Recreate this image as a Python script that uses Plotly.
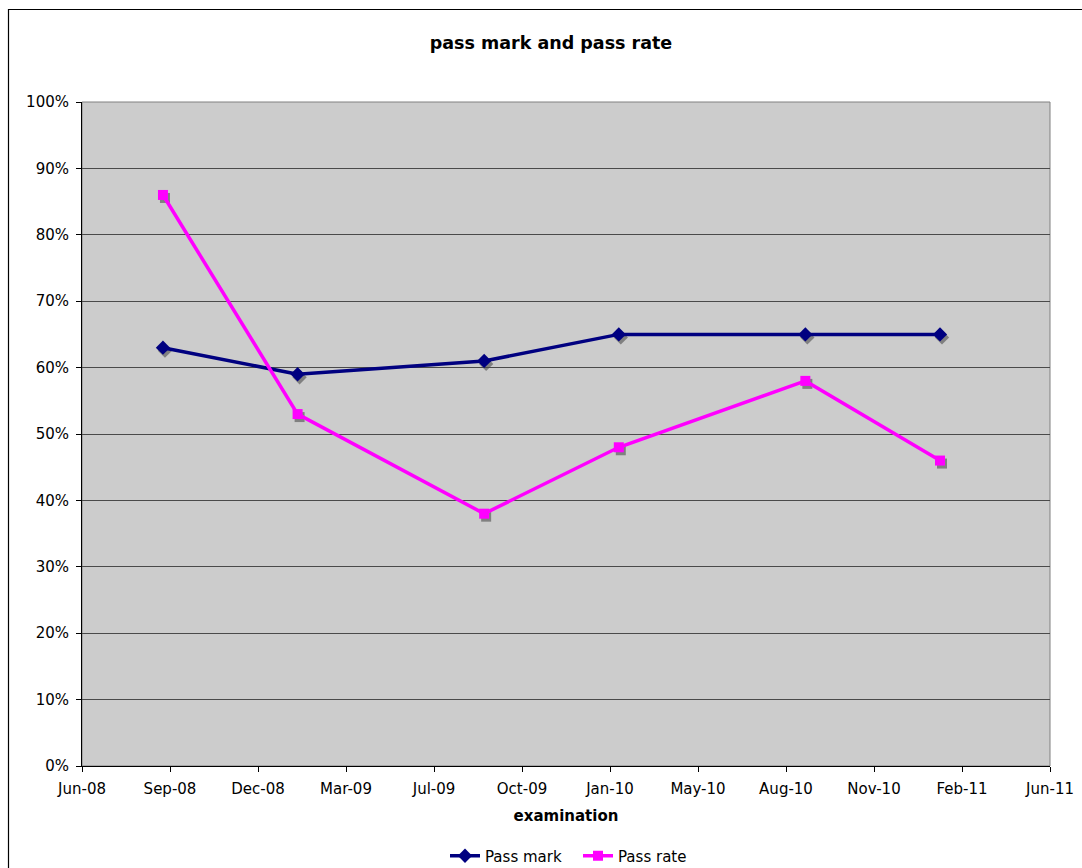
import pandas as pd
import plotly.graph_objects as go

# ---- data ----
exam_dates = ["2008-09-01", "2009-02-01", "2009-09-01", "2010-02-01", "2010-09-01", "2011-02-01"]
pass_mark = [0.63, 0.59, 0.61, 0.65, 0.65, 0.65]
pass_rate = [0.86, 0.53, 0.38, 0.48, 0.58, 0.46]
x_tick_labels = ["Jun-08", "Sep-08", "Dec-08", "Mar-09", "Jul-09", "Oct-09",
                 "Jan-10", "May-10", "Aug-10", "Nov-10", "Feb-11", "Jun-11"]
y_tick_values = [0, 0.1, 0.2, 0.3, 0.4, 0.5, 0.6, 0.7, 0.8, 0.9, 1.0]
x_axis_start = "2008-06-01"
x_tick_step_days = 100

W, H = 1082, 868
L, R, T, B = 82, 1050, 102, 766  # plot area pixel edges
dx, dy = 2, 3                      # marker shadow offset (px)

x_ticks = list(pd.date_range(x_axis_start, periods=len(x_tick_labels), freq=f"{x_tick_step_days}D"))
x_range = [x_ticks[0], x_ticks[-1]]

FONT = "DejaVu Sans"
NAVY = "#000080"
MAGENTA = "#FF00FF"
FS = 15

pw, ph = R + dx - L, B + dy - T


def px_x(p):
    return (p - L) / pw


def px_y(p):
    return (B + dy - p) / ph


fig = go.Figure()

# shadows (drawn first, on the shifted axis pair x/y)
for vals, sym, sz in [(pass_mark, "diamond", 11), (pass_rate, "square", 10)]:
    fig.add_trace(go.Scatter(x=exam_dates, y=vals, mode="markers", xaxis="x", yaxis="y",
                             marker=dict(symbol=sym, size=sz, color="#808080", line=dict(width=0)),
                             showlegend=False, hoverinfo="skip"))

fig.add_trace(go.Scatter(x=exam_dates, y=pass_mark, mode="lines+markers", name="Pass mark",
                         xaxis="x2", yaxis="y2",
                         line=dict(color=NAVY, width=3.5),
                         marker=dict(symbol="diamond", size=11, color=NAVY, line=dict(width=0))))
fig.add_trace(go.Scatter(x=exam_dates, y=pass_rate, mode="lines+markers", name="Pass rate",
                         xaxis="x2", yaxis="y2",
                         line=dict(color=MAGENTA, width=3.5),
                         marker=dict(symbol="square", size=10, color=MAGENTA, line=dict(width=0))))

fig.update_layout(
    width=W, height=H,
    margin=dict(l=L, r=W - (R + dx), t=T, b=H - (B + dy), pad=0, autoexpand=False),
    paper_bgcolor="white",
    plot_bgcolor="rgba(0,0,0,0)",
    font=dict(family=FONT, size=FS, color="black"),
    title=dict(text="<b>pass mark and pass rate</b>", x=551 / W, xref="container",
               xanchor="center", y=1 - 43 / H, yref="container", yanchor="middle",
               font=dict(family=FONT, size=17.5, color="black")),
    # shadow axes
    xaxis=dict(type="date", range=x_range, domain=[px_x(L + dx), 1], anchor="y",
               visible=False, showgrid=False),
    yaxis=dict(range=[0, 1], domain=[0, px_y(T + dy)], anchor="x",
               visible=False, showgrid=False),
    # main axes
    xaxis2=dict(type="date", range=x_range, tickvals=x_ticks, ticktext=x_tick_labels,
                domain=[0, px_x(R)], anchor="y2",
                showgrid=False, zeroline=False, showline=True, linecolor="black", linewidth=1,
                ticks="outside", ticklen=5, tickcolor="black", ticklabelstandoff=4,
                tickfont=dict(family=FONT, size=FS),
                title=dict(text="<b>examination</b>", font=dict(family=FONT, size=FS), standoff=13)),
    yaxis2=dict(range=[0, 1], tickvals=y_tick_values, tickformat=".0%",
                domain=[px_y(B), 1], anchor="x2",
                showgrid=True, gridcolor="#4a4a4a", gridwidth=1, zeroline=False,
                showline=True, linecolor="black", linewidth=1,
                ticks="outside", ticklen=5, tickcolor="black", ticklabelstandoff=4,
                tickfont=dict(family=FONT, size=FS)),
    legend=dict(orientation="h", x=578 / W, xref="container", xanchor="center",
                y=1 - 856 / H, yref="container", yanchor="middle",
                font=dict(family=FONT, size=FS), bgcolor="rgba(0,0,0,0)",
                tracegroupgap=0, entrywidth=88),
    showlegend=True,
    shapes=[
        dict(type="rect", xref="paper", yref="paper", x0=0, x1=px_x(R), y0=px_y(B), y1=1,
             line=dict(color="#808080", width=1), fillcolor="#CCCCCC", layer="below"),
        dict(type="rect", xref="paper", yref="paper",
             x0=px_x(8.5), x1=px_x(1095), y0=px_y(880), y1=px_y(9.5),
             line=dict(color="black", width=1.2), fillcolor="rgba(0,0,0,0)"),
    ],
)

fig.write_html("out.html")
